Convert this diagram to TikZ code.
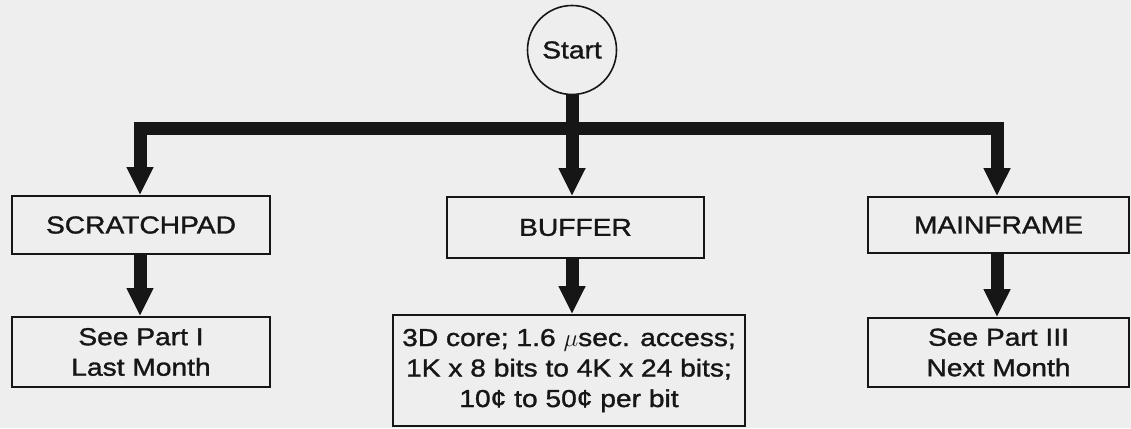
\documentclass[tikz,border=0pt]{standalone}
\usepackage{fontspec}
\setmainfont[FakeStretch=1.15,FakeBold=1.3]{Liberation Sans}
\usetikzlibrary{arrows.meta}
\definecolor{bgc}{RGB}{238,238,238}
\definecolor{ink}{RGB}{22,22,22}
\begin{document}
\begin{tikzpicture}[x=1pt,y=-1pt,
  box/.style={draw=ink, line width=1.6pt, text=ink, align=center, inner sep=0pt,
    font=\fontsize{24.5}{30.5}\selectfont},
  bus/.style={draw=ink, line width=13pt, line cap=rect},
  fatarrow/.style={draw=ink, fill=ink, line width=13pt,
    -{Triangle[width=25pt,length=28pt]}}]
\fill[bgc] (0,0) rectangle (1131,428);
\useasboundingbox (0,0) rectangle (1131,428);

\node[circle, draw=ink, line width=1.6pt, minimum size=89pt, inner sep=0pt, text=ink,
  font=\fontsize{24.5}{30.5}\selectfont] (start) at (572,50) {Start};

\node[box, minimum width=258pt, minimum height=58pt] (scr) at (141,225) {SCRATCHPAD};
\node[box, minimum width=257pt, minimum height=61pt] (buf) at (575.5,227.5) {BUFFER};
\node[box, minimum width=261pt, minimum height=56pt] (main) at (998.5,225) {MAINFRAME};

\node[box, minimum width=258pt, minimum height=70pt] (l2) at (141,352) {See Part I\\Last Month};
\node[box, minimum width=352pt, minimum height=111pt] (b2) at (569,370.5)
  {3D core; 1.6 $\mu$sec. access;\\1K x 8 bits to 4K x 24 bits;\\10¢ to 50¢ per bit};
\node[box, minimum width=261pt, minimum height=69pt] (r2) at (998.5,352.5) {See Part III\\Next Month};

\coordinate (bl) at (140,128);
\coordinate (bm) at (572,128);
\coordinate (br) at (997,128);

\draw[bus, line cap=butt] (start.south) -- (bm);
\draw[bus] (bl) -- (br);

\draw[fatarrow] (bl) -- (bl |- scr.north);
\draw[fatarrow] (bm) -- (bm |- buf.north);
\draw[fatarrow] (br) -- (br |- main.north);

\draw[fatarrow] (bl |- scr.south) -- (bl |- l2.north);
\draw[fatarrow] (bm |- buf.south) -- (bm |- b2.north);
\draw[fatarrow] (br |- main.south) -- (br |- r2.north);
\end{tikzpicture}
\end{document}
